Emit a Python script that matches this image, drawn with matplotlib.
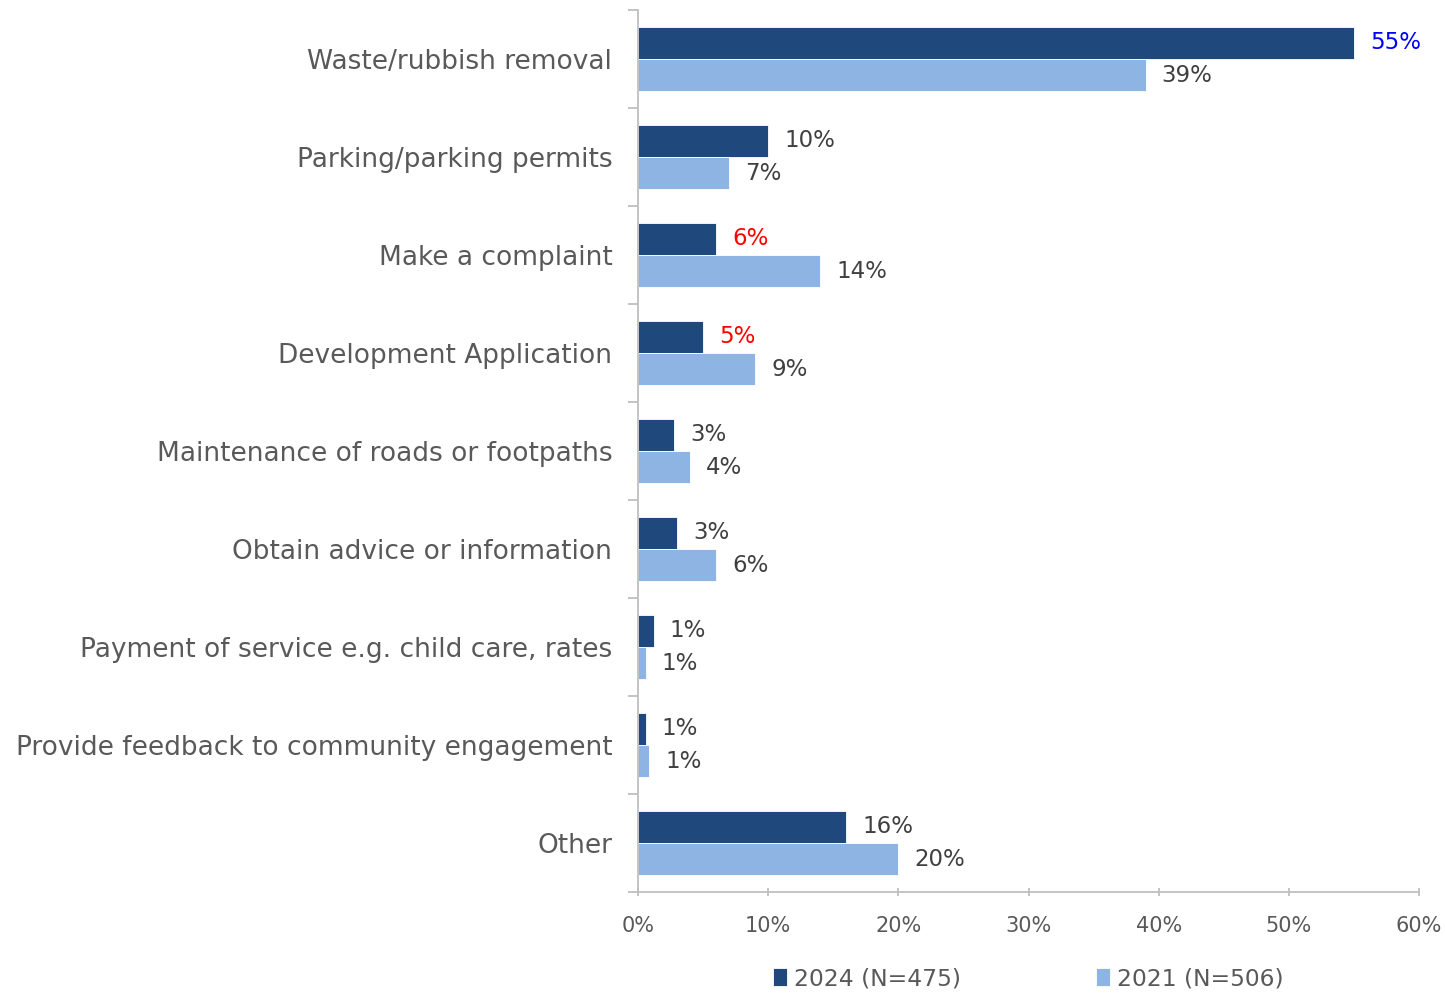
import matplotlib
matplotlib.use("Agg")
import matplotlib.pyplot as plt
import numpy as np

categories = [
    "Waste/rubbish removal",
    "Parking/parking permits",
    "Make a complaint",
    "Development Application",
    "Maintenance of roads or footpaths",
    "Obtain advice or information",
    "Payment of service e.g. child care, rates",
    "Provide feedback to community engagement",
    "Other",
]
vals_2024 = [55, 10, 6, 5, 2.8, 3, 1.2, 0.6, 16]
vals_2021 = [39, 7, 14, 9, 4, 6, 0.6, 0.85, 20]
series_names = ["2024 (N=475)", "2021 (N=506)"]
xticks = [0, 10, 20, 30, 40, 50, 60]

# highlight colours for some 2024 labels
label_colors_2024 = {0: "#0000FF", 2: "#FF0000", 3: "#FF0000"}

dark = "#1F497D"
light = "#8EB4E3"
txt = "#595959"
vtxt = "#404040"

plt.rcParams['font.family'] = ['DejaVu Sans']

fig = plt.figure(figsize=(14.45, 9.93), dpi=100)
ax = fig.add_axes([638/1445, 1 - 892/993, (1419 - 638)/1445, (892 - 10)/993])

y = np.arange(len(categories))
h = 0.327
b1 = ax.barh(y - h/2, vals_2024, height=h, color=dark, label=series_names[0],
             edgecolor="white", linewidth=0.6)
b2 = ax.barh(y + h/2, vals_2021, height=h, color=light, label=series_names[1],
             edgecolor="white", linewidth=0.6)

for i, v in enumerate(vals_2024):
    ax.annotate(f"{v:.0f}%", (v, y[i] - h/2), xytext=(11.5, 0), textcoords="offset points",
                va="center", ha="left", fontsize=16.5, color=label_colors_2024.get(i, vtxt))
for i, v in enumerate(vals_2021):
    ax.annotate(f"{v:.0f}%", (v, y[i] + h/2), xytext=(11.5, 0), textcoords="offset points",
                va="center", ha="left", fontsize=16.5, color=vtxt)

ax.set_xlim(0, 60)
ax.set_ylim(len(categories) - 0.5, -0.5)
ax.set_xticks(xticks)
ax.set_xticklabels([f"{t}%" for t in xticks], fontsize=15, color=txt)
ax.set_yticks(y)
ax.set_yticklabels(categories, fontsize=19, color=txt)
ax.set_yticks(np.arange(-0.5, len(categories)), minor=True)
ax.tick_params(axis="y", which="major", length=0, pad=18.5)
ax.tick_params(axis="y", which="minor", length=7, color="#BFBFBF", width=1.3)
ax.tick_params(axis="x", length=6, color="#BFBFBF", width=1.3, pad=14, direction="inout")

for s in ["top", "right"]:
    ax.spines[s].set_visible(False)
for s in ["left", "bottom"]:
    ax.spines[s].set_color("#BFBFBF")
    ax.spines[s].set_linewidth(1.3)

leg = fig.legend(handles=[b1, b2], loc="center", bbox_to_anchor=(1028/1445, 1 - 979/993),
                 ncol=2, frameon=False, fontsize=16.8, handlelength=0.6, handleheight=0.8,
                 handletextpad=0.3, columnspacing=5.8)
for t in leg.get_texts():
    t.set_color(txt)

fig.savefig("out.png", dpi=100)
